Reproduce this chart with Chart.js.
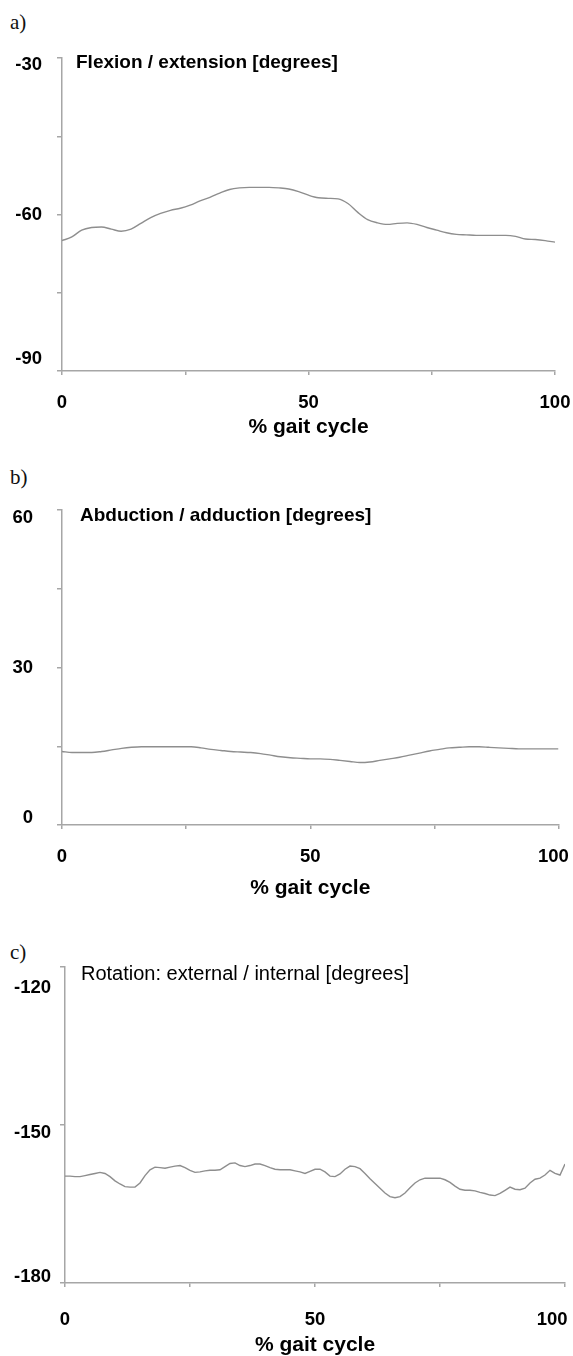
<!DOCTYPE html>
<html><head><meta charset="utf-8">
<script src="https://cdn.jsdelivr.net/npm/chart.js@4.4.1/dist/chart.umd.min.js"></script>
<style>
html,body{margin:0;padding:0;background:#fff;}
body{width:573px;height:1356px;position:relative;overflow:hidden;}
canvas{position:absolute;left:0;}
.lbl{position:absolute;left:10px;font-family:"Liberation Serif","Times New Roman",serif;font-size:21px;line-height:24px;color:#111;}
.ttl{position:absolute;font-family:"Liberation Sans",Arial,sans-serif;color:#000;white-space:nowrap;z-index:2;}
</style></head><body>
<div class="lbl" style="top:10px">a)</div>
<div class="lbl" style="top:465px">b)</div>
<div class="lbl" style="top:940px">c)</div>
<div class="ttl" style="left:76px;top:52px;font-size:19px;line-height:19px;font-weight:bold;">Flexion / extension [degrees]</div>
<div class="ttl" style="left:80px;top:505px;font-size:19px;line-height:19px;font-weight:bold;">Abduction / adduction [degrees]</div>
<div class="ttl" style="left:81px;top:963px;font-size:20px;line-height:20px;">Rotation: external / internal [degrees]</div>
<canvas id="ca" width="573" height="450" style="top:0px"></canvas>
<canvas id="cb" width="573" height="460" style="top:450px"></canvas>
<canvas id="cc" width="573" height="446" style="top:910px"></canvas>
<script>
// ---- data ----
const X_STEP2 = [0,2,4,6,8,10,12,14,16,18,20,22,24,26,28,30,32,34,36,38,40,42,44,46,48,50,52,54,56,58,60,62,64,66,68,70,72,74,76,78,80,82,84,86,88,90,92,94,96,98,100];
const FLEXION = [-65.0,-64.3,-63.0,-62.5,-62.4,-62.8,-63.2,-62.8,-61.7,-60.6,-59.8,-59.2,-58.8,-58.2,-57.4,-56.7,-55.9,-55.2,-54.9,-54.8,-54.8,-54.8,-54.9,-55.1,-55.6,-56.3,-56.8,-56.9,-57.0,-57.9,-59.6,-61.0,-61.6,-61.9,-61.7,-61.6,-61.9,-62.5,-63.0,-63.5,-63.8,-63.9,-64.0,-64.0,-64.0,-64.0,-64.2,-64.7,-64.8,-65.0,-65.3];
const ABDUCTION = [14.0,13.8,13.8,13.8,14.0,14.3,14.6,14.8,14.9,14.9,14.9,14.9,14.9,14.9,14.7,14.4,14.2,14.0,13.9,13.8,13.6,13.3,13.0,12.8,12.7,12.6,12.6,12.5,12.3,12.1,11.9,12.0,12.3,12.6,12.9,13.3,13.7,14.1,14.4,14.7,14.8,14.9,14.9,14.8,14.7,14.6,14.5,14.5,14.5,14.5,14.5];
const X_STEP1 = [0,1,2,3,4,5,6,7,8,9,10,11,12,13,14,15,16,17,18,19,20,21,22,23,24,25,26,27,28,29,30,31,32,33,34,35,36,37,38,39,40,41,42,43,44,45,46,47,48,49,50,51,52,53,54,55,56,57,58,59,60,61,62,63,64,65,66,67,68,69,70,71,72,73,74,75,76,77,78,79,80,81,82,83,84,85,86,87,88,89,90,91,92,93,94,95,96,97,98,99,100];
const ROTATION = [-159.7,-159.7,-159.8,-159.8,-159.6,-159.4,-159.2,-159.0,-159.2,-159.8,
  -160.6,-161.2,-161.7,-161.8,-161.8,-161.0,-159.6,-158.5,-158.0,-158.1,
  -158.2,-158.0,-157.8,-157.7,-158.1,-158.6,-159.0,-158.9,-158.7,-158.6,
  -158.6,-158.5,-157.9,-157.3,-157.2,-157.7,-157.9,-157.7,-157.4,-157.4,
  -157.7,-158.1,-158.4,-158.5,-158.5,-158.5,-158.7,-158.9,-159.2,-158.8,
  -158.4,-158.4,-158.9,-159.7,-159.8,-159.3,-158.4,-157.8,-157.9,-158.3,
  -159.2,-160.2,-161.1,-162.0,-162.9,-163.6,-163.8,-163.6,-162.9,-161.9,
  -161.0,-160.4,-160.1,-160.1,-160.1,-160.1,-160.4,-160.9,-161.6,-162.2,
  -162.4,-162.4,-162.5,-162.8,-163.0,-163.3,-163.4,-163.0,-162.4,-161.8,
  -162.2,-162.3,-162.0,-161.0,-160.3,-160.1,-159.5,-158.6,-159.2,-159.5,
  -157.4];
const X_TICK_LABELS = [0, 50, 100];
const Y_LABELS_A = [-90, -60, -30];
const Y_LABELS_B = [0, 30, 60];
const Y_LABELS_C = [-180, -150, -120];
const X_TITLE = '% gait cycle';

// ---- drawing ----
const FONT = '"Liberation Sans", Arial, sans-serif';
const AXIS = '#a6a6a6';
const LINE = '#8e8e8e';

function makeChart(id, xs, ys, g) {
  new Chart(document.getElementById(id), {
    type: 'line',
    data: { datasets: [{
      data: xs.map((x, i) => ({ x: x, y: ys[i] })),
      borderColor: LINE, borderWidth: 1.4, pointRadius: 0, fill: false,
      tension: g.tension, cubicInterpolationMode: g.mono ? 'monotone' : 'default'
    }] },
    options: {
      responsive: false, animation: false, devicePixelRatio: 1,
      layout: { padding: { left: 0, right: g.padRight, top: g.padTop, bottom: g.padBottom } },
      plugins: { legend: { display: false }, tooltip: { enabled: false }, title: { display: false } },
      scales: {
        x: {
          type: 'linear', min: 0, max: 100,
          afterFit: s => { s.height = g.xH; s.paddingLeft = 0; s.paddingRight = 0; },
          ticks: {
            stepSize: 25, autoSkip: false, maxRotation: 0, minRotation: 0, padding: g.xPad, color: '#000',
            font: { family: FONT, size: 18.5, weight: 'bold', lineHeight: 1.2 },
            callback: v => {
              if (!X_TICK_LABELS.includes(v)) return '';
              return v === 100 ? String(v) + g.lastPad : String(v);
            }
          },
          grid: { drawOnChartArea: false, drawTicks: true, tickLength: 4, color: AXIS, lineWidth: 1.5 },
          border: { display: true, color: AXIS, width: 1.5 },
          title: { display: true, text: X_TITLE, color: '#000', padding: 0,
                   font: { family: FONT, size: 21, weight: 'bold', lineHeight: 1 } }
        },
        y: {
          min: g.yMin, max: g.yMax,
          afterFit: s => { s.width = g.left; s.paddingTop = 0; s.paddingBottom = 0; },
          ticks: {
            stepSize: 15, padding: g.yPad, color: '#000',
            callback: v => {
              if (!g.yLabels.includes(v)) return '';
              const sh = g.shift[v] || 0, t = String(v);
              return sh > 0 ? ['', t] : (sh < 0 ? [t, ''] : t);
            },
            font: c => {
              const sh = (c.tick && g.shift[c.tick.value]) || 0;
              return { family: FONT, size: 18.5, weight: 'bold', lineHeight: sh ? (Math.abs(sh) * 2) + 'px' : 1.2 };
            }
          },
          grid: { drawOnChartArea: false, drawTicks: true, tickLength: 5, color: AXIS, lineWidth: 1.5 },
          border: { display: true, color: AXIS, width: 1.5 }
        }
      }
    }
  });
}

makeChart('ca', X_STEP2, FLEXION, {
  yMin: -90, yMax: -30, yLabels: Y_LABELS_A, shift: { '-30': 7, '-90': -12 },
  left: 62, padRight: 18, padTop: 58, padBottom: 12.5, xH: 66.5, yPad: 15, xPad: 17,
  tension: 0.4, mono: true, lastPad: ''
});
makeChart('cb', X_STEP2, ABDUCTION, {
  yMin: 0, yMax: 60, yLabels: Y_LABELS_B, shift: { '60': 8, '0': -7 },
  left: 62, padRight: 14.5, padTop: 60, padBottom: 11.5, xH: 73.5, yPad: 24, xPad: 17,
  tension: 0.4, mono: true, lastPad: '  '
});
makeChart('cc', X_STEP1, ROTATION, {
  yMin: -180, yMax: -120, yLabels: Y_LABELS_C, shift: { '-120': 21, '-150': 8, '-180': -6 },
  left: 65, padRight: 8, padTop: 57, padBottom: 0.5, xH: 72.5, yPad: 9, xPad: 22,
  tension: 0, mono: false, lastPad: '     '
});
</script>
</body></html>
